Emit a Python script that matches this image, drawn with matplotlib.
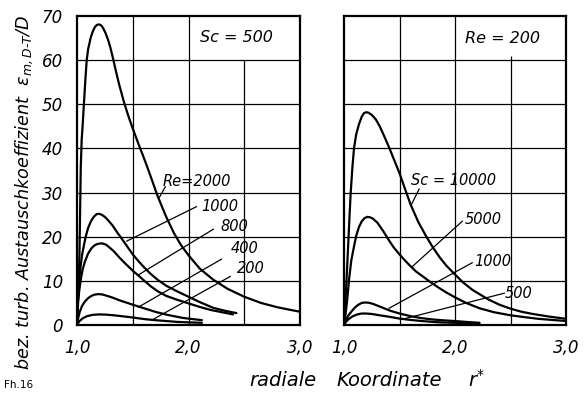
import matplotlib
matplotlib.use("Agg")
import matplotlib.pyplot as plt

plt.rcParams['font.family'] = ['DejaVu Sans']
plt.rcParams['font.style'] = 'oblique'
plt.rcParams['mathtext.fontset'] = 'dejavusans'

# ---------------- data ----------------
x_ticks = [1.0, 2.0, 3.0]
x_tick_labels = ['1,0', '2,0', '3,0']
y_ticks = [0, 10, 20, 30, 40, 50, 60, 70]
y_tick_labels = ['0', '10', '20', '30', '40', '50', '60', '70']

# left panel: Sc = 500, parameter Re
re2000_r = [1.0, 1.012, 1.022, 1.028, 1.034, 1.042, 1.05, 1.063, 1.075, 1.087, 1.1, 1.122, 1.14,
            1.16, 1.18, 1.2, 1.22, 1.235, 1.255, 1.28, 1.3, 1.324, 1.35, 1.38, 1.42, 1.46, 1.5,
            1.55, 1.59, 1.63, 1.67, 1.72, 1.8, 1.87, 1.93, 2.0, 2.1, 2.22, 2.35, 2.5, 2.65, 2.8, 3.0]
re2000_v = [0, 8, 16, 26, 36, 42, 45, 50.5, 55.5, 60, 62.5, 65, 66.4,
            67.5, 68, 68.1, 67.8, 67.2, 66.2, 64.5, 62.8, 60.3, 57.4, 54.3, 50.6, 47.4, 44.5,
            41.1, 38.5, 35.8, 33, 29.4, 24.5, 20.8, 18.2, 15.8, 12.8, 10.3, 8.2, 6.4, 5.0, 4.0, 3.0]
re1000_r = [1.0, 1.01, 1.02, 1.033, 1.045, 1.063, 1.08, 1.1, 1.125, 1.15, 1.175, 1.196, 1.22, 1.25,
            1.28, 1.32, 1.36, 1.4, 1.45, 1.5, 1.55, 1.6, 1.66, 1.72, 1.8, 1.9, 2.0, 2.1, 2.22,
            2.33, 2.43]
re1000_v = [0, 7, 10.5, 13.4, 15.8, 18.2, 20.2, 22, 23.5, 24.5, 25.1, 25.2, 25.0, 24.5,
            23.7, 22.5, 21.0, 19.6, 17.8, 16.0, 14.5, 13.1, 11.6, 10.3, 8.9, 7.6, 6.4, 5.2, 3.9,
            3.2, 2.7]
re800_r = [1.0, 1.01, 1.02, 1.035, 1.05, 1.07, 1.1, 1.13, 1.16, 1.19, 1.226, 1.26, 1.29, 1.33,
           1.38, 1.43, 1.5, 1.56, 1.6, 1.66, 1.72, 1.8, 1.9, 2.0, 2.1, 2.2, 2.3, 2.4]
re800_v = [0, 5, 7.8, 10.5, 12.5, 14.3, 16.2, 17.4, 18.1, 18.4, 18.5, 18.2, 17.6, 16.7,
           15.3, 14.0, 12.3, 11.0, 10.1, 8.8, 7.7, 6.6, 5.7, 4.9, 4.1, 3.4, 2.9, 2.4]
re400_r = [1.0, 1.01, 1.025, 1.045, 1.07, 1.1, 1.13, 1.16, 1.196, 1.23, 1.27, 1.32, 1.38, 1.44,
           1.5, 1.6, 1.7, 1.81, 1.95, 2.05, 2.12]
re400_v = [0, 1.5, 3.0, 4.3, 5.3, 6.1, 6.6, 6.9, 7.0, 6.9, 6.6, 6.2, 5.6, 5.1,
           4.6, 3.8, 3.0, 2.3, 1.6, 1.3, 1.1]
re200_r = [1.0, 1.02, 1.05, 1.09, 1.14, 1.2, 1.26, 1.33, 1.4, 1.5, 1.6, 1.7, 1.8, 1.9, 2.0, 2.12]
re200_v = [0, 0.8, 1.5, 2.0, 2.3, 2.4, 2.35, 2.2, 2.0, 1.7, 1.35, 1.1, 0.9, 0.7, 0.6, 0.5]

# right panel: Re = 200, parameter Sc
sc10000_r = [1.0, 1.01, 1.02, 1.03, 1.04, 1.05, 1.06, 1.075, 1.09, 1.11, 1.135, 1.16, 1.18, 1.2,
             1.22, 1.25, 1.286, 1.32, 1.36, 1.41, 1.45, 1.5, 1.55, 1.6, 1.67, 1.74, 1.8, 1.86,
             1.92, 1.99, 2.07, 2.16, 2.3, 2.4, 2.5, 2.6, 2.7, 2.85, 3.0]
sc10000_v = [0, 4, 8.7, 14, 19.4, 24.8, 29.8, 35.5, 40, 43.2, 45.5, 47.2, 48.0, 48.2,
             48.1, 47.6, 46.6, 45.1, 42.9, 40, 37.5, 34.4, 30.8, 27.3, 23.3, 20.1, 17.6, 15.4,
             13.5, 11.7, 9.7, 7.9, 5.8, 4.6, 3.7, 3.0, 2.5, 1.9, 1.4]
sc5000_r = [1.0, 1.015, 1.03, 1.045, 1.065, 1.09, 1.11, 1.135, 1.16, 1.185, 1.21, 1.235, 1.26,
            1.3, 1.35, 1.41, 1.45, 1.5, 1.55, 1.6, 1.65, 1.71, 1.78, 1.85, 1.92, 1.99, 2.1, 2.22,
            2.35, 2.5, 2.62, 2.75, 3.0]
sc5000_v = [0, 2.6, 6, 10.2, 14.5, 17.8, 20.2, 22.2, 23.5, 24.2, 24.5, 24.4, 24.1,
            23.2, 21.4, 19.0, 17.5, 16.0, 14.6, 13.3, 12.1, 11.0, 9.7, 8.5, 7.4, 6.4, 5.0, 3.8,
            2.9, 2.2, 1.8, 1.4, 0.9]
sc1000_r = [1.0, 1.015, 1.04, 1.075, 1.1, 1.13, 1.16, 1.19, 1.22, 1.26, 1.3, 1.35, 1.42, 1.5,
            1.6, 1.7, 1.8, 1.9, 2.0, 2.1, 2.22]
sc1000_v = [0, 1.0, 2.2, 3.3, 4.0, 4.6, 5.0, 5.1, 5.05, 4.8, 4.4, 3.9, 3.2, 2.6,
            2.0, 1.55, 1.25, 1.05, 0.9, 0.7, 0.5]
sc500_r = [1.0, 1.02, 1.045, 1.08, 1.12, 1.16, 1.2, 1.25, 1.32, 1.4, 1.5, 1.6, 1.7, 1.86, 2.05, 2.22]
sc500_v = [0, 0.8, 1.4, 2.0, 2.4, 2.6, 2.6, 2.5, 2.2, 1.9, 1.45, 1.15, 0.9, 0.6, 0.45, 0.4]

left_curves = [(re2000_r, re2000_v), (re1000_r, re1000_v), (re800_r, re800_v),
               (re400_r, re400_v), (re200_r, re200_v)]
right_curves = [(sc10000_r, sc10000_v), (sc5000_r, sc5000_v), (sc1000_r, sc1000_v),
                (sc500_r, sc500_v)]

left_labels = ['Re=2000', '1000', '800', '400', '200']
right_labels = ['Sc = 10000', '5000', '1000', '500']
left_title = 'Sc = 500'
right_title = 'Re = 200'

# label anchors (left edge, vertical centre) and leader lines
left_label_pos = [(1.77, 32.6), (2.116, 26.9), (2.286, 22.3), (2.375, 17.4), (2.43, 12.8)]
left_leaders = [((1.792, 31.3), (1.732, 28.6)), ((2.071, 26.8), (1.446, 19.0)),
                ((2.223, 21.7), (1.554, 11.4)), ((2.295, 14.9), (1.554, 4.1)),
                ((2.375, 11.0), (1.67, 1.1))]
right_label_pos = [(1.605, 32.7), (2.083, 23.9), (2.173, 14.4), (2.444, 7.1)]
right_leaders = [((1.677, 30.8), (1.602, 27.0)), ((2.065, 23.5), (1.614, 13.2)),
                 ((2.155, 14.1), (1.406, 3.8)), ((2.444, 7.2), (1.557, 1.5))]

# ---------------- figure ----------------
W, H = 586, 396
fig = plt.figure(figsize=(W / 100, H / 100), dpi=100)
ax1 = fig.add_axes([77 / W, 1 - 325 / H, 223 / W, 309 / H])
ax2 = fig.add_axes([344 / W, 1 - 325 / H, 222 / W, 309 / H])

for ax, gap_top in ((ax1, 60), (ax2, 61)):
    ax.set_xlim(1.0, 3.0)
    ax.set_ylim(0, 70)
    for yv in [10, 20, 30, 40, 50, 60]:
        ax.axhline(yv, color='black', lw=0.9, zorder=1)
    ax.vlines([1.5, 2.0], 0, 70, color='black', lw=0.9, zorder=1)
    ax.vlines([2.5], 0, gap_top, color='black', lw=0.9, zorder=1)
    for s in ax.spines.values():
        s.set_linewidth(1.6)
    ax.set_xticks(x_ticks)
    ax.set_xticklabels(x_tick_labels, fontsize=12)
    ax.set_yticks(y_ticks)
    ax.tick_params(length=0, pad=10)

ax1.set_yticklabels(y_tick_labels, fontsize=12)
ax2.set_yticklabels([])

for r, v in left_curves:
    ax1.plot(r, v, color='black', lw=1.6, solid_joinstyle='round',
             solid_capstyle='round', zorder=3)
for r, v in right_curves:
    ax2.plot(r, v, color='black', lw=1.6, solid_joinstyle='round',
             solid_capstyle='round', zorder=3)

for ax, labels, pos, leaders in ((ax1, left_labels, left_label_pos, left_leaders),
                                 (ax2, right_labels, right_label_pos, right_leaders)):
    for lab, (x, y), (p0, p1) in zip(labels, pos, leaders):
        ax.plot([p0[0], p1[0]], [p0[1], p1[1]], color='black', lw=0.9, zorder=2)
        ax.text(x, y, lab, fontsize=10.5, ha='left', va='center', zorder=4)

ax1.text(2.43, 65.2, left_title, fontsize=11.5, ha='center', va='center')
ax2.text(2.426, 64.9, right_title, fontsize=11.5, ha='center', va='center')

fig.text(24 / W, 1 - 192 / H,
         r'bez. turb. Austauschkoeffizient  $\varepsilon_{m,D\text{-}T}/D$',
         rotation=90, fontsize=12.7, ha='center', va='center')
fig.text(283 / W, 1 - 380 / H, 'radiale', fontsize=14, ha='center', va='center')
fig.text(389 / W, 1 - 380 / H, 'Koordinate', fontsize=14, ha='center', va='center')
fig.text(477 / W, 1 - 380 / H, r'$r^{*}$', fontsize=14, ha='center', va='center')
fig.text(4 / W, 1 - 385 / H, 'Fh.16', fontsize=7.5, style='normal',
         ha='left', va='center')

fig.savefig('out.png', dpi=100)
